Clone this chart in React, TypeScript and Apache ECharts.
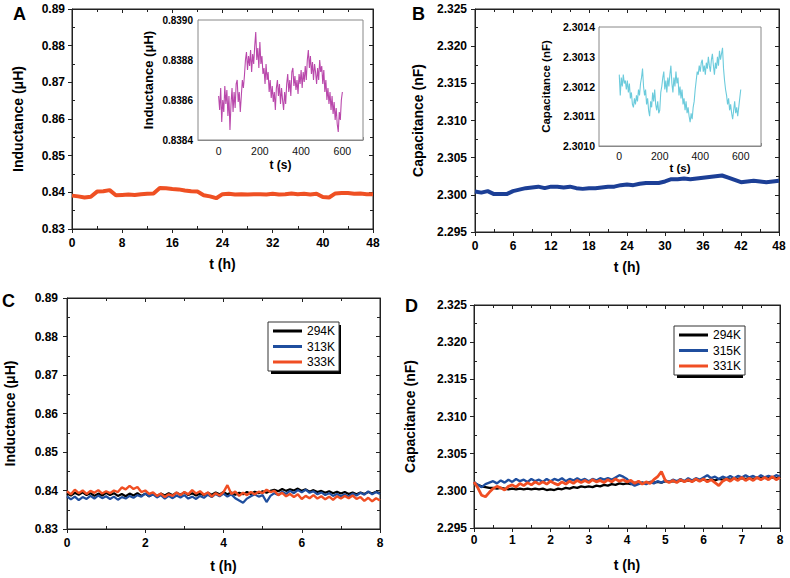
import React, { useEffect, useRef } from "react";
import * as echarts from "echarts";

// ---------- DATA ----------
const abTime = [0, 1, 2, 3, 4, 5, 6, 7, 8, 9, 10, 11, 12, 13, 14, 15, 16, 17, 18, 19, 20, 21, 22, 23, 24,
  25, 26, 27, 28, 29, 30, 31, 32, 33, 34, 35, 36, 37, 38, 39, 40, 41, 42, 43, 44, 45, 46, 47, 48];

const aInductance = [0.8391, 0.8389, 0.8386, 0.8388, 0.8402, 0.8403, 0.8406, 0.8392, 0.8393, 0.8394,
  0.8393, 0.8395, 0.8396, 0.8397, 0.8412, 0.8411, 0.8409, 0.8408, 0.8405, 0.8403,
  0.8402, 0.8392, 0.8389, 0.8384, 0.8395, 0.8396, 0.8394, 0.8395, 0.8394, 0.8395,
  0.8395, 0.8394, 0.8396, 0.8394, 0.8395, 0.8397, 0.8395, 0.8396, 0.8394, 0.8396,
  0.8387, 0.8386, 0.8397, 0.8398, 0.8398, 0.8396, 0.8397, 0.8395, 0.8395];

const bCapacitance = [2.30045, 2.3003, 2.3005, 2.3001, 2.3001, 2.3001, 2.3005, 2.3007, 2.3009, 2.301,
  2.3011, 2.3009, 2.3011, 2.3011, 2.301, 2.3011, 2.3009, 2.3008, 2.3009, 2.3009,
  2.301, 2.3011, 2.3011, 2.3013, 2.3014, 2.3013, 2.3015, 2.3016, 2.3016, 2.3016,
  2.3018, 2.3021, 2.3021, 2.3022, 2.3021, 2.3022, 2.3023, 2.3024, 2.3025, 2.3026,
  2.3023, 2.302, 2.3017, 2.3018, 2.3019, 2.3018, 2.3017, 2.3018, 2.3019];

const insetTime = [0, 5, 10, 15, 20, 25, 30, 35, 40, 45, 50, 55, 60, 65, 70, 75, 80, 85, 90, 95,
  100, 105, 110, 115, 120, 125, 130, 135, 140, 145, 150, 155, 160, 165, 170, 175, 180, 185, 190, 195,
  200, 205, 210, 215, 220, 225, 230, 235, 240, 245, 250, 255, 260, 265, 270, 275, 280, 285, 290, 295,
  300, 305, 310, 315, 320, 325, 330, 335, 340, 345, 350, 355, 360, 365, 370, 375, 380, 385, 390, 395,
  400, 405, 410, 415, 420, 425, 430, 435, 440, 445, 450, 455, 460, 465, 470, 475, 480, 485, 490, 495,
  500, 505, 510, 515, 520, 525, 530, 535, 540, 545, 550, 555, 560, 565, 570, 575, 580, 585, 590, 595, 600];

const insetInductance = [
  0.83862, 0.83855, 0.83866, 0.83849, 0.8386, 0.83854, 0.83867, 0.83858, 0.83865, 0.83852,
  0.83862, 0.83845, 0.83858, 0.83866, 0.83854, 0.83864, 0.83856, 0.83868, 0.8387, 0.83859,
  0.83864, 0.83854, 0.83862, 0.8387, 0.83866, 0.83872, 0.8388, 0.83884, 0.83875, 0.83882,
  0.83877, 0.83885, 0.83874, 0.83883, 0.83878, 0.83887, 0.83894, 0.8388, 0.83886, 0.83876,
  0.83889, 0.83878, 0.83882, 0.83873, 0.83876, 0.83868, 0.83878, 0.8387, 0.83874, 0.83864,
  0.8387, 0.83861, 0.83867, 0.83859, 0.83864, 0.83855, 0.83866, 0.8387, 0.83862, 0.83868,
  0.83858, 0.83866, 0.8386, 0.83855, 0.83864, 0.83858, 0.83868, 0.83873, 0.83864, 0.8387,
  0.83862, 0.83874, 0.83876, 0.83867, 0.83872, 0.83865, 0.8387, 0.83863, 0.83873, 0.83868,
  0.83875, 0.83866, 0.83874, 0.83869, 0.83877, 0.8387, 0.8388, 0.83885, 0.83876, 0.83882,
  0.83873, 0.83879, 0.8387, 0.83878, 0.83874, 0.83868, 0.83876, 0.8387, 0.8388, 0.83874,
  0.83877, 0.83868, 0.83875, 0.83864, 0.8387, 0.8386, 0.83866, 0.83858, 0.83864, 0.83855,
  0.83862, 0.83853, 0.83859, 0.8385, 0.83856, 0.83848, 0.83844, 0.83854, 0.8385, 0.8386,
  0.83864];

const insetCapacitance = [
  2.30124, 2.30117, 2.30123, 2.3012, 2.30124, 2.30121, 2.30122, 2.30119, 2.30122, 2.30118,
  2.30121, 2.30116, 2.30118, 2.30114, 2.30113, 2.30116, 2.30114, 2.30117, 2.30115, 2.30119,
  2.30117, 2.30121, 2.30123, 2.30126, 2.3012, 2.30117, 2.30119, 2.30114, 2.30116, 2.30112,
  2.3011, 2.30115, 2.30113, 2.30118, 2.30115, 2.30119, 2.30114, 2.30112, 2.30115, 2.30111,
  2.30112, 2.30118, 2.3012, 2.30123, 2.30125, 2.30119, 2.30122, 2.30118, 2.30123, 2.3012,
  2.30124, 2.30127, 2.30121, 2.30118, 2.30123, 2.3012, 2.30125, 2.30121, 2.30123, 2.30117,
  2.3012, 2.30116, 2.30119, 2.30114, 2.30116, 2.30112, 2.30115, 2.30111, 2.30113, 2.3011,
  2.30108, 2.30111, 2.30109, 2.30113, 2.30115, 2.30119, 2.30122, 2.30125, 2.30124, 2.30127,
  2.30125, 2.30128, 2.30129, 2.30125, 2.30127, 2.30124, 2.30128, 2.30126, 2.3013, 2.30127,
  2.30125, 2.30129, 2.30131, 2.30127, 2.30124, 2.30128, 2.30126, 2.3013, 2.30127, 2.30132,
  2.30129, 2.30131, 2.30133, 2.30126, 2.30122, 2.30119, 2.30117, 2.30114, 2.30116, 2.30112,
  2.30114, 2.30111, 2.30109, 2.30112, 2.30115, 2.30111, 2.30113, 2.3011, 2.30113, 2.30116,
  2.30119];

const cdTime = [0, 0.1, 0.2, 0.3, 0.4, 0.5, 0.6, 0.7, 0.8, 0.9, 1, 1.1, 1.2, 1.3, 1.4, 1.5, 1.6, 1.7, 1.8, 1.9,
  2, 2.1, 2.2, 2.3, 2.4, 2.5, 2.6, 2.7, 2.8, 2.9, 3, 3.1, 3.2, 3.3, 3.4, 3.5, 3.6, 3.7, 3.8, 3.9,
  4, 4.1, 4.2, 4.3, 4.4, 4.5, 4.6, 4.7, 4.8, 4.9, 5, 5.1, 5.2, 5.3, 5.4, 5.5, 5.6, 5.7, 5.8, 5.9,
  6, 6.1, 6.2, 6.3, 6.4, 6.5, 6.6, 6.7, 6.8, 6.9, 7, 7.1, 7.2, 7.3, 7.4, 7.5, 7.6, 7.7, 7.8, 7.9, 8];

const cL294 = [
  0.8392, 0.8387, 0.8394, 0.8389, 0.8395, 0.8388, 0.8393, 0.8386, 0.8392, 0.8387,
  0.8394, 0.8388, 0.8393, 0.8386, 0.8391, 0.8385, 0.8392, 0.8387, 0.8393, 0.8386,
  0.8392, 0.8385, 0.8391, 0.8386, 0.8392, 0.8387, 0.8393, 0.8388, 0.8394, 0.8389,
  0.8395, 0.8388, 0.8393, 0.8387, 0.8392, 0.8388, 0.8394, 0.8389, 0.8395, 0.839,
  0.8396, 0.839, 0.8395, 0.8389, 0.8394, 0.839, 0.8396, 0.8391, 0.8397, 0.8393,
  0.8398, 0.8394, 0.8399, 0.8402, 0.8398, 0.8404, 0.8399, 0.8403, 0.84, 0.8405,
  0.8399, 0.8403, 0.8397, 0.8401, 0.8396, 0.8399, 0.8394, 0.8398, 0.8393, 0.8397,
  0.8392, 0.8396, 0.8391, 0.8395, 0.839, 0.8395, 0.8391, 0.8396, 0.8392, 0.8397, 0.8393];

const cL313 = [
  0.8385, 0.8377, 0.8384, 0.8375, 0.8383, 0.8378, 0.8386, 0.8379, 0.8387, 0.838,
  0.8385, 0.8378, 0.8384, 0.8376, 0.8383, 0.8379, 0.8386, 0.8381, 0.8388, 0.8384,
  0.8392, 0.8385, 0.839, 0.8382, 0.8388, 0.8379, 0.8386, 0.838, 0.8387, 0.8382,
  0.8388, 0.8379, 0.8384, 0.8378, 0.8386, 0.8381, 0.8389, 0.8383, 0.8391, 0.8385,
  0.8392, 0.8384, 0.839, 0.838, 0.8374, 0.8368, 0.8379, 0.8385, 0.839, 0.8384,
  0.8388, 0.837, 0.8386, 0.8393, 0.8388, 0.8397, 0.8391, 0.8399, 0.8393, 0.8401,
  0.8395, 0.8402, 0.8394, 0.8398, 0.839, 0.8395, 0.8388, 0.8393, 0.8386, 0.8391,
  0.8385, 0.839, 0.8384, 0.8392, 0.8387, 0.8394, 0.8389, 0.8398, 0.839, 0.8396, 0.8391];

const cL333 = [
  0.8398, 0.839, 0.8402, 0.8393, 0.84, 0.8391, 0.8399, 0.8394, 0.8401, 0.8392,
  0.8398, 0.8393, 0.84, 0.8396, 0.8408, 0.8403, 0.8412, 0.8404, 0.8409, 0.8396,
  0.84, 0.8391, 0.8395, 0.8386, 0.8392, 0.8383, 0.839, 0.8386, 0.8395, 0.8388,
  0.8396, 0.839, 0.8401, 0.8392, 0.8398, 0.8389, 0.8395, 0.8384, 0.8393, 0.8387,
  0.8396, 0.8414, 0.8391, 0.8397, 0.8386, 0.8394, 0.8388, 0.8396, 0.839, 0.8397,
  0.8393, 0.8402, 0.8396, 0.8399, 0.8388, 0.8394, 0.8385, 0.8391, 0.8383, 0.839,
  0.8378, 0.8386, 0.838, 0.8388, 0.8379, 0.8385, 0.8377, 0.8384, 0.8376, 0.8385,
  0.8379, 0.8386, 0.838, 0.8387, 0.8378, 0.8383, 0.8373, 0.8381, 0.8372, 0.838, 0.8374];

const dC294 = [
  2.301, 2.3008, 2.3006, 2.3005, 2.3004, 2.3004, 2.3003, 2.3004, 2.3003, 2.3002,
  2.3003, 2.3002, 2.3003, 2.3002, 2.3003, 2.3002, 2.3003, 2.3002, 2.3003, 2.3001,
  2.3002, 2.3001, 2.3003, 2.3002, 2.3004, 2.3003, 2.3005, 2.3004, 2.3006, 2.3005,
  2.3006, 2.3005, 2.3007, 2.3006, 2.3008, 2.3007, 2.3009, 2.3008, 2.301, 2.3009,
  2.301, 2.3009, 2.3011, 2.301, 2.3011, 2.301, 2.3012, 2.3011, 2.3012, 2.3011,
  2.3013, 2.3012, 2.3013, 2.3012, 2.3014, 2.3013, 2.3014, 2.3013, 2.3015, 2.3014,
  2.3015, 2.3014, 2.3015, 2.3014, 2.3016, 2.3015, 2.3016, 2.3015, 2.3017, 2.3016,
  2.3017, 2.3016, 2.3017, 2.3016, 2.3018, 2.3017, 2.3018, 2.3017, 2.3018, 2.3017, 2.3019];

const dC315 = [
  2.3012, 2.3008, 2.3005, 2.3009, 2.3011, 2.3013, 2.301, 2.3014, 2.3011, 2.3015,
  2.3012, 2.3016, 2.3013, 2.3015, 2.3012, 2.3016, 2.3013, 2.3015, 2.3012, 2.3016,
  2.3013, 2.3016, 2.3014, 2.3017, 2.3013, 2.3016, 2.3014, 2.3017, 2.3014, 2.3016,
  2.3013, 2.3016, 2.3014, 2.3017, 2.3015, 2.3017, 2.3015, 2.3018, 2.3021, 2.3019,
  2.3016, 2.301, 2.3007, 2.3009, 2.3011, 2.3009, 2.3012, 2.301, 2.3013, 2.3011,
  2.3014, 2.3012, 2.3015, 2.3013, 2.3016, 2.3013, 2.3017, 2.3014, 2.3017, 2.3015,
  2.3018, 2.3021, 2.3017, 2.3019, 2.3016, 2.3019, 2.3017, 2.302, 2.3017, 2.302,
  2.3018, 2.3021, 2.3018, 2.302, 2.3017, 2.3021, 2.3018, 2.302, 2.3018, 2.3021, 2.3019];

const dC331 = [
  2.3012, 2.3004, 2.2994, 2.2992, 2.2998, 2.3003, 2.3006, 2.3004, 2.3001, 2.3006,
  2.3008, 2.3005, 2.301, 2.3007, 2.3011, 2.3008, 2.3012, 2.3009, 2.3012, 2.3009,
  2.3013, 2.301, 2.3008, 2.3012, 2.3009, 2.3013, 2.301, 2.3014, 2.3011, 2.3014,
  2.3011, 2.3015, 2.3012, 2.3014, 2.3011, 2.3015, 2.3012, 2.3016, 2.3013, 2.3015,
  2.3012, 2.3014, 2.301, 2.3013, 2.3009, 2.3012, 2.301, 2.3015, 2.3019, 2.3026,
  2.3014, 2.3011, 2.3014, 2.3011, 2.3015, 2.3012, 2.3015, 2.3012, 2.3016, 2.3013,
  2.3016, 2.3012, 2.3015, 2.3011, 2.3007, 2.3013, 2.3016, 2.3013, 2.3017, 2.3014,
  2.3018, 2.3014, 2.3017, 2.3014, 2.3018, 2.3015, 2.3018, 2.3015, 2.3019, 2.3015, 2.3018];

const legendC = ["294K", "313K", "333K"];
const legendD = ["294K", "315K", "331K"];

// ---------- STYLE ----------
const FONT = '"Liberation Sans", Arial, Helvetica, sans-serif';
const AX = "#222";
const INSET_AX = "#888";
const LEGEND_ICON = "path://M0,0L29,0L29,3L0,3Z";

function pairs(t: number[], v: number[]) {
  const n = Math.min(t.length, v.length);
  const out: number[][] = [];
  for (let i = 0; i < n; i++) out.push([t[i], v[i]]);
  return out;
}

const boldText = (size: number) => ({ fontFamily: FONT, fontWeight: "bold" as const, fontSize: size, color: "#000" });

function mainX(grid: number, min: number, max: number, interval: number, name: string, margin: number, gap: number) {
  return {
    type: "value", gridIndex: grid, min, max, interval,
    name, nameLocation: "middle", nameGap: gap, nameTextStyle: boldText(14),
    axisLine: { show: true, onZero: false, lineStyle: { color: AX, width: 1 } },
    axisTick: { show: true, inside: false, length: 4, lineStyle: { color: AX } },
    minorTick: { show: true, splitNumber: 2, length: -3, lineStyle: { color: AX } },
    axisLabel: { margin, ...boldText(12) },
    splitLine: { show: false },
  };
}

function mainY(grid: number, min: number, max: number, interval: number, dec: number, name: string, margin: number, gap: number) {
  return {
    type: "value", gridIndex: grid, min, max, interval,
    name, nameLocation: "middle", nameGap: gap, nameTextStyle: boldText(14),
    axisLine: { show: true, onZero: false, lineStyle: { color: AX, width: 1 } },
    axisTick: { show: true, inside: false, length: 4, lineStyle: { color: AX } },
    minorTick: { show: true, splitNumber: 2, length: -3, lineStyle: { color: AX } },
    axisLabel: { margin, ...boldText(12), formatter: (v: number) => v.toFixed(dec) },
    splitLine: { show: false },
  };
}

function frameX(grid: number, min: number, max: number, interval: number) {
  return {
    type: "value", gridIndex: grid, position: "top", min, max, interval,
    axisLine: { show: true, onZero: false, lineStyle: { color: AX, width: 1 } },
    axisTick: { show: true, inside: true, length: 4, lineStyle: { color: AX } },
    minorTick: { show: true, splitNumber: 2, length: 3, lineStyle: { color: AX } },
    axisLabel: { show: false }, splitLine: { show: false },
  };
}

function frameY(grid: number, min: number, max: number, interval: number) {
  return {
    type: "value", gridIndex: grid, position: "right", min, max, interval,
    axisLine: { show: true, onZero: false, lineStyle: { color: AX, width: 1 } },
    axisTick: { show: true, inside: true, length: 4, lineStyle: { color: AX } },
    minorTick: { show: true, splitNumber: 2, length: 3, lineStyle: { color: AX } },
    axisLabel: { show: false }, splitLine: { show: false },
  };
}

function insetX(grid: number, gap: number, margin: number, nameSize: number) {
  return {
    type: "value", gridIndex: grid, min: -100, max: 700, interval: 100,
    name: "t (s)", nameLocation: "middle", nameGap: gap, nameTextStyle: boldText(nameSize),
    axisLine: { show: true, onZero: false, lineStyle: { color: INSET_AX, width: 1 } },
    axisTick: { show: true, inside: true, length: 3, lineStyle: { color: INSET_AX } },
    axisLabel: {
      margin, fontFamily: FONT, fontSize: 10.5, color: "#111",
      formatter: (v: number) => (v >= 0 && v <= 600 && Math.round(v) % 200 === 0 ? String(Math.round(v)) : ""),
    },
    splitLine: { show: false },
  };
}

function insetY(grid: number, min: number, max: number, interval: number, name: string, gap: number, margin: number, nameSize: number, labelSize: number) {
  return {
    type: "value", gridIndex: grid, min, max, interval,
    name, nameLocation: "middle", nameGap: gap, nameTextStyle: boldText(nameSize),
    axisLine: { show: true, onZero: false, lineStyle: { color: INSET_AX, width: 1 } },
    axisTick: { show: true, inside: true, length: 3, lineStyle: { color: INSET_AX } },
    axisLabel: { margin, ...boldText(labelSize), formatter: (v: number) => v.toFixed(4) },
    splitLine: { show: false },
  };
}

const lineSeries = (name: string, xi: number, yi: number, data: number[][], color: string, width: number, z = 2) => ({
  type: "line", name, xAxisIndex: xi, yAxisIndex: yi, data,
  symbol: "none", showSymbol: false, silent: true, z,
  lineStyle: { color, width }, itemStyle: { color },
});

const RED = "#f04e23";
const BLUE = "#1f4e9e";

const legendBase = (data: string[], left: number, top: number) => ({
  data: data.map((n) => ({ name: n, icon: LEGEND_ICON })),
  orient: "vertical", left, top,
  itemWidth: 29, itemHeight: 12, itemGap: 3.5, padding: [3, 4, 3, 5],
  backgroundColor: "#fff", borderColor: "#333", borderWidth: 1,
  textStyle: { fontFamily: FONT, fontSize: 12, color: "#000" },
  selectedMode: false,
});

function buildOption() {
  const gridStyle = { show: true, borderColor: AX, borderWidth: 1, backgroundColor: "transparent" };
  const insetGridStyle = { show: true, borderColor: INSET_AX, borderWidth: 1, backgroundColor: "#fff" };
  return {
    animation: false,
    backgroundColor: "#fff",
    grid: [
      { left: 72, top: 9, width: 301, height: 220, ...gridStyle },
      { left: 198, top: 20, width: 165, height: 120, ...insetGridStyle, z: 5 },
      { left: 475, top: 9, width: 304, height: 223, ...gridStyle },
      { left: 599, top: 27, width: 162, height: 119, ...insetGridStyle, z: 5 },
      { left: 67, top: 298, width: 313, height: 231, ...gridStyle },
      { left: 474, top: 305, width: 306, height: 223, ...gridStyle },
    ],
    xAxis: [
      mainX(0, 0, 48, 8, "t (h)", 8, 28),
      insetX(1, 19, 5, 12),
      mainX(2, 0, 48, 6, "t (h)", 8, 28),
      insetX(3, 13, 4, 11.5),
      mainX(4, 0, 8, 2, "t (h)", 8, 30),
      mainX(5, 0, 8, 1, "t (h)", 6, 30),
      frameX(0, 0, 48, 8),
      frameX(2, 0, 48, 6),
      frameX(4, 0, 8, 2),
      frameX(5, 0, 8, 1),
    ],
    yAxis: [
      mainY(0, 0.83, 0.89, 0.01, 2, "Inductance (μH)", 7, 47),
      insetY(1, 0.8384, 0.839, 0.0002, "Inductance (μH)", 43, 5, 13, 10),
      mainY(2, 2.295, 2.325, 0.005, 3, "Capacitance (nF)", 8, 50),
      insetY(3, 2.301, 2.3014, 0.0001, "Capacitance (nF)", 47, 4, 11.5, 10.5),
      mainY(4, 0.83, 0.89, 0.01, 2, "Inductance (μH)", 9, 50),
      mainY(5, 2.295, 2.325, 0.005, 3, "Capacitance (nF)", 7, 57),
      frameY(0, 0.83, 0.89, 0.01),
      frameY(2, 2.295, 2.325, 0.005),
      frameY(4, 0.83, 0.89, 0.01),
      frameY(5, 2.295, 2.325, 0.005),
    ],
    legend: [legendBase(legendC, 268, 322), legendBase(legendD, 674, 326)],
    graphic: [
      { type: "rect", shape: { x: 271, y: 325, width: 70, height: 49 }, style: { fill: "#000" }, z: 1, silent: true },
      { type: "rect", shape: { x: 677, y: 329, width: 66, height: 49 }, style: { fill: "#000" }, z: 1, silent: true },
      { type: "text", x: 13, y: 14, style: { text: "A", fill: "#000", textVerticalAlign: "middle", font: `bold 18px ${FONT}` } },
      { type: "text", x: 412, y: 14, style: { text: "B", fill: "#000", textVerticalAlign: "middle", font: `bold 18px ${FONT}` } },
      { type: "text", x: 2, y: 301, style: { text: "C", fill: "#000", textVerticalAlign: "middle", font: `bold 18px ${FONT}` } },
      { type: "text", x: 405, y: 306, style: { text: "D", fill: "#000", textVerticalAlign: "middle", font: `bold 18px ${FONT}` } },
    ],
    series: [
      lineSeries("A", 0, 0, pairs(abTime, aInductance), "#ef5023", 4),
      lineSeries("A inset", 1, 1, pairs(insetTime, insetInductance), "#b948ab", 1.1, 6),
      lineSeries("B", 2, 2, pairs(abTime, bCapacitance), "#1c3f96", 4),
      lineSeries("B inset", 3, 3, pairs(insetTime, insetCapacitance), "#6ccbdc", 1.1, 6),
      lineSeries("294K", 4, 4, pairs(cdTime, cL294), "#000", 2.2),
      lineSeries("313K", 4, 4, pairs(cdTime, cL313), BLUE, 2.2),
      lineSeries("333K", 4, 4, pairs(cdTime, cL333), RED, 2.4),
      lineSeries("294K", 5, 5, pairs(cdTime, dC294), "#000", 2.2),
      lineSeries("315K", 5, 5, pairs(cdTime, dC315), BLUE, 2.4),
      lineSeries("331K", 5, 5, pairs(cdTime, dC331), RED, 2.8),
    ],
  };
}

export default function App() {
  const ref = useRef<HTMLDivElement>(null);
  useEffect(() => {
    if (!ref.current) return;
    const chart = echarts.init(ref.current, undefined, { renderer: "svg" });
    chart.setOption(buildOption() as any);
    return () => chart.dispose();
  }, []);
  return <div ref={ref} style={{ position: "absolute", left: 0, top: 0, width: 790, height: 578, background: "#fff" }} />;
}
